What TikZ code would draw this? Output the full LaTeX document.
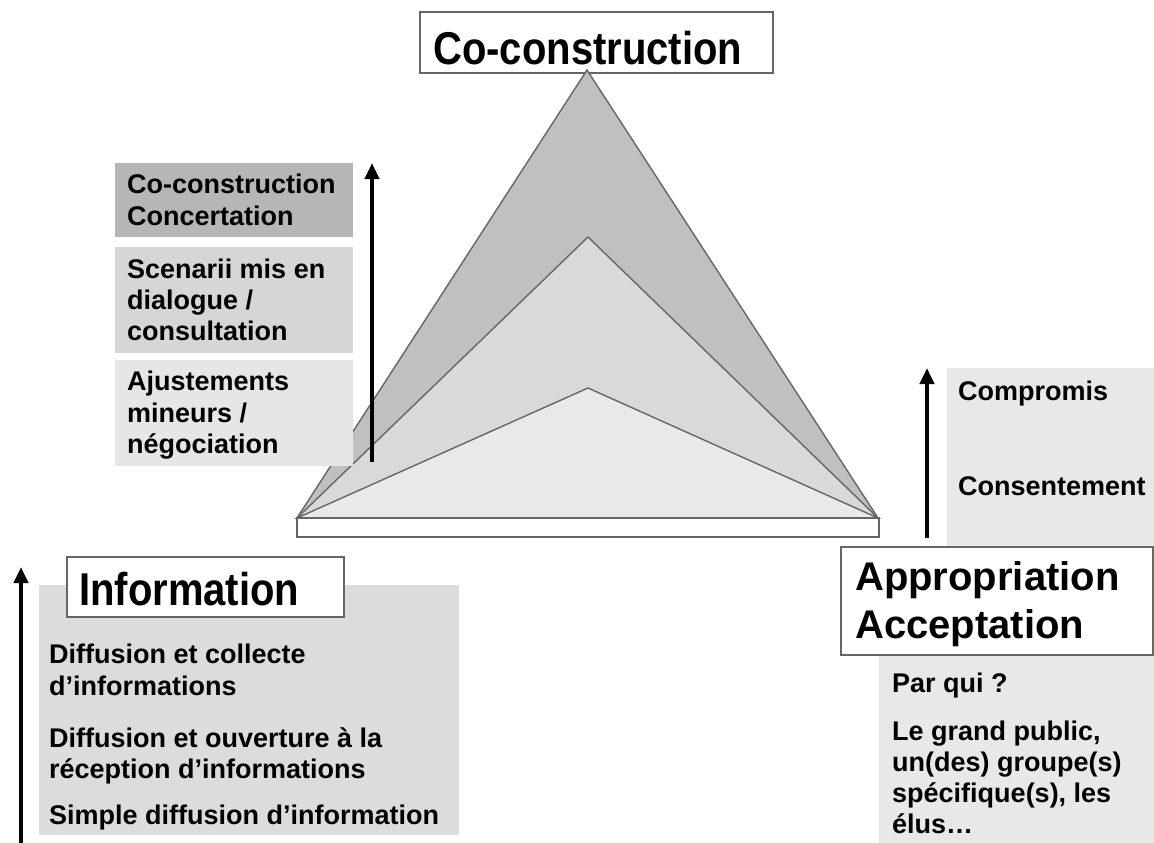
\documentclass[tikz,border=0pt]{standalone}
\usepackage{fontspec}
\setmainfont{Liberation Sans}
\newfontfamily\bodyfont{Liberation Sans}
\newfontfamily\titlefont[FakeStretch=0.87]{Liberation Sans}
\usetikzlibrary{arrows.meta}
\definecolor{triA}{HTML}{C0C0C0}
\definecolor{triB}{HTML}{D9D9D9}
\definecolor{triC}{HTML}{E9E9E9}
\definecolor{boxA}{HTML}{B6B6B6}
\definecolor{boxB}{HTML}{D6D6D6}
\definecolor{boxC}{HTML}{E6E6E6}
\definecolor{panelL}{HTML}{DCDCDC}
\definecolor{panelR}{HTML}{E8E8E8}
\definecolor{edge}{HTML}{666666}
\tikzset{
  panel/.style={draw=none},
  titlebox/.style={draw=edge, line width=1.2pt, fill=white},
  tri/.style={draw=edge, line width=1.4pt, line join=miter},
  bodytxt/.style={anchor=base west, inner sep=0pt, font=\bodyfont\bfseries\fontsize{27}{31}\selectfont},
  titletxt/.style={anchor=base west, inner sep=0pt, font=\titlefont\bfseries\fontsize{46}{48}\selectfont},
  apptxt/.style={anchor=base west, inner sep=0pt, font=\bfseries\fontsize{40}{48}\selectfont},
  uparrow/.style={line width=4.5pt, -{Triangle[width=14pt,length=16pt]}}
}
\begin{document}
\begin{tikzpicture}[x=1pt,y=-1pt]
\useasboundingbox (0,0) rectangle (1154,843);
% ---- top title box (drawn under apex)
\draw[titlebox] (420,12) rectangle (773,73);
\node[titletxt] (cotitle) at (433,64) {Co-construction};
% ---- triangle
\coordinate (L) at (297,518);
\coordinate (R) at (878,518);
\coordinate (P1) at (587,70);
\coordinate (P2) at (588,237);
\coordinate (P3) at (588,388);
\filldraw[tri, fill=triA] (L) -- (P1) -- (R) -- cycle;
\filldraw[tri, fill=triB] (L) -- (P2) -- (R) -- cycle;
\filldraw[tri, fill=triC] (L) -- (P3) -- (R) -- cycle;
\draw[titlebox, line width=1.3pt] (297,518) rectangle (879,537);
% ---- left column boxes
\fill[boxA] (115,163) rectangle (353,237);
\fill[boxB] (115,247) rectangle (353,353);
\fill[boxC] (115,360) rectangle (353,466);
\node[bodytxt] (c1a) at (127,193) {Co-construction};
\node[bodytxt] (c1b) at (127,225) {Concertation};
\node[bodytxt] (c2a) at (127,278) {Scenarii mis en};
\node[bodytxt] (c2b) at (127,309) {dialogue /};
\node[bodytxt] (c2c) at (127,340) {consultation};
\node[bodytxt] (c3a) at (127,390) {Ajustements};
\node[bodytxt] (c3b) at (127,422) {mineurs /};
\node[bodytxt] (c3c) at (127,453) {négociation};
\coordinate (m0) at (372,462);
\coordinate (m1) at (372,163);
\draw[uparrow] (m0) -- (m1);
% ---- information block
\fill[panelL] (39,585) rectangle (459,835);
\draw[titlebox] (67,557) rectangle (344,617);
\node[titletxt] (info) at (79,605) {Information};
\node[bodytxt] (i1a) at (49,663) {Diffusion et collecte};
\node[bodytxt] (i1b) at (49,695) {d’informations};
\node[bodytxt] (i2a) at (49,747) {Diffusion et ouverture à la};
\node[bodytxt] (i2b) at (49,778) {réception d’informations};
\node[bodytxt] (i3) at (49,824) {Simple diffusion d’information};
\coordinate (l0) at (21,843);
\coordinate (l1) at (21,567);
\draw[uparrow] (l0) -- (l1);
% ---- right block
\fill[panelR] (947,368) rectangle (1154,547);
\fill[panelR] (879,655) rectangle (1154,843);
\node[bodytxt] (r1) at (958,400) {Compromis};
\node[bodytxt] (r2) at (958,495) {Consentement};
\coordinate (r0) at (927,538);
\coordinate (rt) at (927,368);
\draw[uparrow] (r0) -- (rt);
\draw[titlebox] (841,547) rectangle (1153,655);
\node[apptxt] (app1) at (855,590) {Appropriation};
\node[apptxt] (app2) at (855,638) {Acceptation};
\node[bodytxt] (q1) at (892,692) {Par qui ?};
\node[bodytxt] (q2) at (892,740) {Le grand public,};
\node[bodytxt] (q3) at (892,771) {un(des) groupe(s)};
\node[bodytxt] (q4) at (892,802) {spécifique(s), les};
\node[bodytxt] (q5) at (892,833) {élus…};
\end{tikzpicture}
\end{document}
